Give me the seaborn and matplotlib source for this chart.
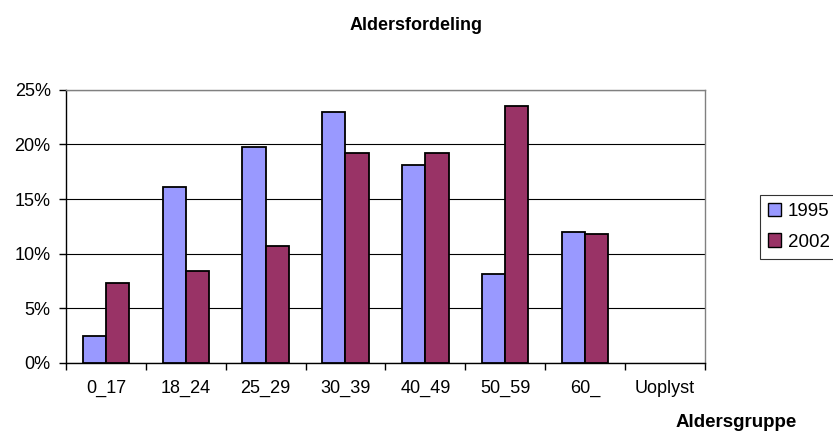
import matplotlib
matplotlib.use("Agg")
import matplotlib.pyplot as plt
import seaborn as sns
import pandas as pd
from matplotlib.ticker import FuncFormatter, FixedLocator
from matplotlib.patches import Patch

categories = ["0_17", "18_24", "25_29", "30_39", "40_49", "50_59", "60_", "Uoplyst"]
v1995 = [2.5, 16.1, 19.8, 23.0, 18.1, 8.1, 12.0, 0.0]
v2002 = [7.3, 8.4, 10.7, 19.2, 19.2, 23.5, 11.8, 0.0]
series = ["1995", "2002"]
colors = ["#9999FF", "#993366"]

df = pd.DataFrame({
    "Aldersgruppe": categories * 2,
    "value": v1995 + v2002,
    "year": [series[0]] * len(categories) + [series[1]] * len(categories),
})

sns.set_style("white")
plt.rcParams['font.family'] = ['Liberation Sans', 'DejaVu Sans']
plt.rcParams['text.color'] = 'black'
plt.rcParams['xtick.color'] = 'black'
plt.rcParams['ytick.color'] = 'black'
plt.rcParams['axes.labelcolor'] = 'black'

fig = plt.figure(figsize=(8.33, 4.32), dpi=100)
ax = fig.add_axes([0.0792, 0.160, 0.767, 0.632])

sns.barplot(data=df, x="Aldersgruppe", y="value", hue="year", palette=colors,
            width=0.58, edgecolor="black", linewidth=1.3, ax=ax, zorder=3,
            saturation=1, legend=False)

# zero-height bars leave no visible mark in the reference
for p in ax.patches:
    if abs(p.get_height()) < 1e-9:
        p.set_linewidth(0)

ax.set_ylim(0, 25)
ax.set_xlim(-0.5, len(categories) - 0.5)
ax.yaxis.set_major_locator(FixedLocator([0, 5, 10, 15, 20, 25]))
ax.yaxis.set_major_formatter(FuncFormatter(lambda v, p: f"{int(v)}%"))
ax.grid(axis="y", color="black", linewidth=0.8, zorder=0)
ax.grid(axis="x", visible=False)
for s in ax.spines.values():
    s.set_visible(True)
    s.set_color("black")
    s.set_linewidth(1.0)
ax.spines["top"].set_color("#808080")
ax.spines["right"].set_color("#808080")

ax.set_xticks(range(len(categories)))
ax.set_xticklabels(categories)
ax.xaxis.set_minor_locator(FixedLocator([i - 0.5 for i in range(len(categories) + 1)]))
ax.tick_params(axis="x", which="major", length=0, labelsize=13, pad=12)
ax.tick_params(axis="x", which="minor", length=5, width=1, color="black", direction="out", bottom=True)
ax.tick_params(axis="y", which="major", length=5, width=1, color="black", direction="out", left=True, labelsize=13, pad=6)

ax.set_xlabel("")
ax.set_ylabel("")
fig.text(0.957, 0.003, "Aldersgruppe", ha="right", va="bottom", fontsize=13.5, fontweight="bold")
fig.text(0.5, 0.94, "Aldersfordeling", ha="center", va="center", fontsize=13, fontweight="bold")

handles = [Patch(facecolor=c, edgecolor="black", linewidth=1.0, label=s) for s, c in zip(series, colors)]
leg = ax.legend(handles=handles, loc="center left", bbox_to_anchor=(1.086, 0.498), frameon=True,
                fontsize=13.5, handlelength=0.7, handleheight=0.7, handletextpad=0.35, borderpad=0.45,
                labelspacing=0.7, fancybox=False, borderaxespad=0)
leg.get_frame().set_edgecolor("black")
leg.get_frame().set_linewidth(0.8)

fig.savefig("out.png", dpi=100)
